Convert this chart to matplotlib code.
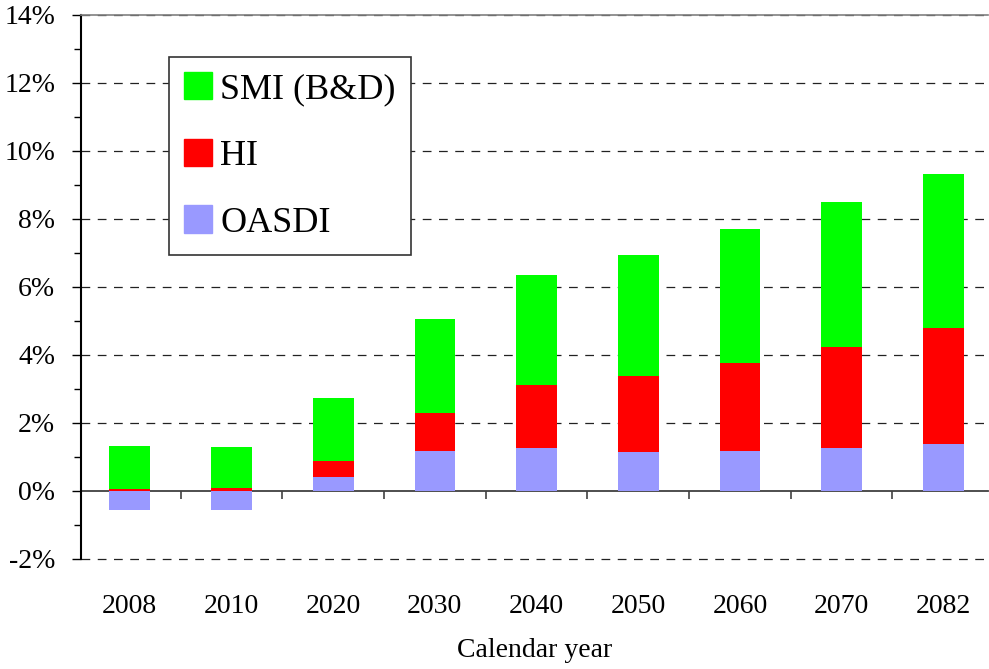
import matplotlib
matplotlib.use("Agg")
import matplotlib.pyplot as plt
import numpy as np
from matplotlib.ticker import MultipleLocator
from matplotlib.patches import Patch

plt.rcParams['font.family'] = ['Liberation Serif', 'DejaVu Serif']

years = ['2008', '2010', '2020', '2030', '2040', '2050', '2060', '2070', '2082']
oasdi = [-0.55, -0.55, 0.42, 1.18, 1.26, 1.15, 1.18, 1.26, 1.38]
hi = [0.05, 0.09, 0.46, 1.11, 1.86, 2.23, 2.58, 2.98, 3.41]
smi = [1.28, 1.21, 1.86, 2.77, 3.23, 3.56, 3.95, 4.26, 4.53]

y_ticks = [-2, 0, 2, 4, 6, 8, 10, 12, 14]
y_labels = [f"{v}%" for v in y_ticks]

c_oasdi = '#9999FF'
c_hi = '#FF0000'
c_smi = '#00FF00'

fig = plt.figure(figsize=(9.89, 6.69), dpi=100)
ax = fig.add_axes([81/989, 1-559/669, 1-81/989 - 0.001, (559-15)/669])

x = np.arange(len(years))
oa = np.array(oasdi)
h = np.array(hi)
s = np.array(smi)
pos_base = np.maximum(oa, 0)
w = 0.40
ax.bar(x, oa, width=w, color=c_oasdi, zorder=3, linewidth=0)
ax.bar(x, h, width=w, bottom=pos_base, color=c_hi, zorder=3, linewidth=0)
ax.bar(x, s, width=w, bottom=pos_base + h, color=c_smi, zorder=3, linewidth=0)

ax.set_ylim(-2, 14)
ax.set_xlim(-0.48, 8.44)
ax.set_yticks(y_ticks)
ax.set_yticklabels(y_labels, fontsize=20)
ax.yaxis.set_minor_locator(MultipleLocator(1))
ax.tick_params(axis='y', which='major', length=6.5, width=1, direction='out', pad=12, color='black')
ax.tick_params(axis='y', which='minor', length=5, width=1, direction='out', color='black')

ax.set_xticks(x)
ax.set_xticklabels(years, fontsize=20)
ax.tick_params(axis='x', which='major', length=0, pad=25)

# gridlines
for v in y_ticks:
    if v == 0:
        continue
    ax.axhline(v, color='#222222', lw=0.9, linestyle=(0, (7, 6)), zorder=1, clip_on=False)

ax.spines['right'].set_visible(False)
ax.spines['bottom'].set_visible(False)
ax.spines['top'].set_color('#808080')
ax.spines['top'].set_linewidth(1.2)
ax.spines['left'].set_color('black')
ax.spines['left'].set_linewidth(1.5)

# zero axis line with boundary ticks
sec = ax.secondary_xaxis(2/16)
sec.spines['bottom'].set_color('#404040')
sec.spines['bottom'].set_linewidth(1.3)
sec.set_xticks(np.arange(len(years) - 1) + 0.5)
sec.set_xticklabels([])
sec.tick_params(axis='x', length=6, width=1.3, direction='out', color='#505050')

ax.set_xlabel('Calendar year', fontsize=20, labelpad=14)

handles = [Patch(color=c_smi, label='SMI (B&D)'),
           Patch(color=c_hi, label='HI'),
           Patch(color=c_oasdi, label='OASDI')]
leg = ax.legend(handles=handles, loc='upper left',
                bbox_to_anchor=(169/989, 1-57/669), bbox_transform=fig.transFigure,
                fontsize=26, frameon=True, fancybox=False, shadow=False,
                handlelength=0.78, handleheight=0.78, handletextpad=0.22,
                labelspacing=0.9, borderpad=0.42, borderaxespad=0)
leg.get_frame().set_edgecolor('#333333')
leg.get_frame().set_linewidth(1.2)
leg.get_frame().set_alpha(1)
leg.set_zorder(5)

fig.savefig('out.png', dpi=100)
